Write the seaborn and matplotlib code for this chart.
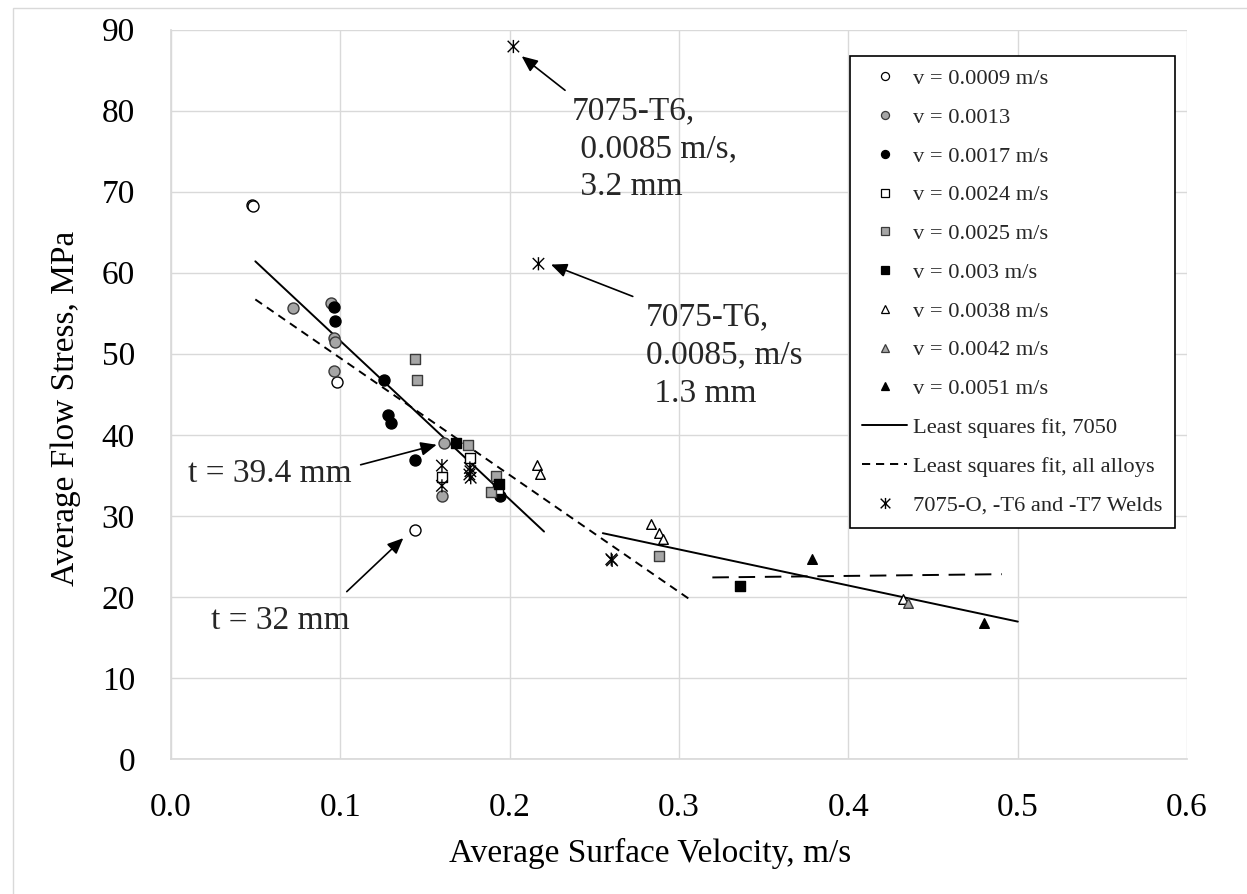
import matplotlib
matplotlib.use("Agg")
import numpy as np
import pandas as pd
import seaborn as sns
import matplotlib.pyplot as plt
from matplotlib.path import Path
from matplotlib.lines import Line2D
from matplotlib.patches import Rectangle

# ---------------- data ----------------
x_v0009 = [0.0478, 0.0483, 0.0983, 0.1439]
y_v0009 = [68.3, 68.2, 46.5, 28.2]

x_v0013 = [0.0720, 0.0943, 0.0963, 0.0966, 0.0963, 0.1613, 0.1600]
y_v0013 = [55.6, 56.3, 51.9, 51.5, 47.9, 39.0, 32.5]

x_v0017 = [0.0963, 0.0970, 0.1258, 0.1280, 0.1298, 0.1440, 0.1943]
y_v0017 = [55.8, 54.0, 46.7, 42.5, 41.4, 36.9, 32.4]

x_v0024 = [0.1764, 0.1600, 0.1933]
y_v0024 = [37.1, 34.8, 33.3]

x_v0025 = [0.1441, 0.1453, 0.1754, 0.1920, 0.1890, 0.2884]
y_v0025 = [49.3, 46.7, 38.7, 34.9, 33.0, 25.1]

x_v0030 = [0.1683, 0.1937, 0.3360]
y_v0030 = [39.0, 33.95, 21.4]

x_v0038 = [0.2160, 0.2180, 0.2837, 0.2880, 0.2904, 0.4320]
y_v0038 = [36.3, 35.1, 29.0, 27.9, 27.1, 19.7]

x_v0042 = [0.4355]
y_v0042 = [19.3]

x_v0051 = [0.3784, 0.4804]
y_v0051 = [24.65, 16.8]

x_welds = [0.2022, 0.2170, 0.1600, 0.1600, 0.1765, 0.1768, 0.1762, 0.1770, 0.2600, 0.2605]
y_welds = [87.9, 61.1, 36.2, 33.7, 35.9, 35.5, 35.1, 34.7, 24.65, 24.5]

# least squares fit segments (end points)
fit7050_a_x = [0.0498, 0.2203]
fit7050_a_y = [61.4, 28.06]
fit7050_b_x = [0.2550, 0.5001]
fit7050_b_y = [27.86, 16.95]
fit_all_x = [0.0498, 0.3070]
fit_all_y = [56.7, 19.6]
flat_x = [0.3197, 0.4906]
flat_y = [22.4, 22.8]

series_labels = ["v = 0.0009 m/s", "v = 0.0013", "v = 0.0017 m/s",
                 "v = 0.0024 m/s", "v = 0.0025 m/s", "v = 0.003 m/s",
                 "v = 0.0038 m/s", "v = 0.0042 m/s", "v = 0.0051 m/s"]
fit_labels = ["Least squares fit, 7050", "Least squares fit, all alloys"]
weld_label = "7075-O, -T6 and -T7 Welds"

x_ticks = [0.0, 0.1, 0.2, 0.3, 0.4, 0.5, 0.6]
y_ticks = [0, 10, 20, 30, 40, 50, 60, 70, 80, 90]

# ---------------- style ----------------
sns.set_theme(style="white")
plt.rcParams['font.family'] = ['Liberation Serif', 'DejaVu Serif']
plt.rcParams['mathtext.default'] = 'regular'

W, H = 1247, 894
fig = plt.figure(figsize=(W / 100, H / 100), dpi=100)
fig.patch.set_facecolor("white")
# outer chart border (light grey)
fig.patches.append(Rectangle((13 / W, -0.1), 1.2, 1 - 8 / H + 0.1, transform=fig.transFigure,
                             fill=False, edgecolor="#d9d9d9", linewidth=1.0))

ax = fig.add_axes([171 / W, 1 - 759 / H, 1016 / W, 729.5 / H])

GREY = "#a6a6a6"
star = Path([(-1, -1), (1, 1), (-1, 1), (1, -1), (0, -1.15), (0, 1.15)],
            [Path.MOVETO, Path.LINETO, Path.MOVETO, Path.LINETO, Path.MOVETO, Path.LINETO])

# fit lines
sns.lineplot(x=fit7050_a_x, y=fit7050_a_y, ax=ax, color="black", linewidth=1.4, zorder=2)
sns.lineplot(x=fit7050_b_x, y=fit7050_b_y, ax=ax, color="black", linewidth=1.4, zorder=2)
sns.lineplot(x=fit_all_x, y=fit_all_y, ax=ax, color="black", linewidth=1.4,
             zorder=2).lines[-1].set_dashes((4.2, 3.0))
sns.lineplot(x=flat_x, y=flat_y, ax=ax, color="black", linewidth=1.4, zorder=2).lines[-1].set_dashes((8.5, 5.0))

series = [
    (x_v0009, y_v0009, "o", "white", "black", 63),
    (x_v0013, y_v0013, "o", GREY, "#3a3a3a", 63),
    (x_v0017, y_v0017, "o", "black", "black", 63),
    (x_v0024, y_v0024, "s", "white", "black", 52),
    (x_v0025, y_v0025, "s", GREY, "#3a3a3a", 52),
    (x_v0030, y_v0030, "s", "black", "black", 52),
    (x_v0038, y_v0038, "^", "white", "black", 48),
    (x_v0042, y_v0042, "^", GREY, "#3a3a3a", 48),
    (x_v0051, y_v0051, "^", "black", "black", 48),
]
for xs, ys, mk, fc, ec, s in series:
    sns.scatterplot(x=xs, y=ys, ax=ax, marker=mk, color=fc, edgecolor=ec,
                    linewidth=1.0, s=s, zorder=3)
sns.scatterplot(x=x_welds, y=y_welds, ax=ax, marker=star, color="black",
                facecolor="none", edgecolor="black", linewidth=1.0, s=90, zorder=4)

# axes
ax.set_xlim(0, 0.6)
ax.set_ylim(0, 90)
ax.set_xticks(x_ticks)
ax.set_yticks(y_ticks)
ax.set_xticklabels([f"{v:.1f}" for v in x_ticks])
ax.set_yticklabels([str(v) for v in y_ticks])
ax.grid(True, color="#d9d9d9", linewidth=1.0)
ax.set_axisbelow(True)
for sp in ax.spines.values():
    sp.set_visible(False)
ax.spines["left"].set_visible(True)
ax.spines["bottom"].set_visible(True)
ax.spines["left"].set_color("#d9d9d9")
ax.spines["bottom"].set_color("#d9d9d9")
ax.tick_params(axis="both", length=0, labelsize=24, colors="black")
ax.tick_params(axis="x", pad=24)
ax.tick_params(axis="y", pad=26)

ax.set_xlabel("Average Surface Velocity, m/s", fontsize=24, color="black")
ax.set_ylabel("Average Flow Stress, MPa", fontsize=24, color="black")
ax.xaxis.set_label_coords((650 - 171) / 1016, (759 - 838) / 729.5)
ax.yaxis.set_label_coords((81 - 171) / 1016, (759 - 408) / 729.5)

# annotations
arrowkw = dict(arrowstyle="-|>,head_length=0.8,head_width=0.35", color="black", lw=1.2,
               shrinkA=0, shrinkB=0)
ax.annotate("", xy=(0.2071, 86.7), xytext=(0.2327, 82.5), arrowprops=arrowkw)
ax.annotate("", xy=(0.2244, 61.0), xytext=(0.2727, 57.07), arrowprops=arrowkw)
ax.annotate("", xy=(0.1569, 38.77), xytext=(0.1120, 36.3), arrowprops=arrowkw)
ax.annotate("", xy=(0.1372, 27.25), xytext=(0.1038, 20.65), arrowprops=arrowkw)

# multi-line texts: anchored at the baseline of their last line
ax.text(0.2366, 69.6, "7075-T6,\n 0.0085 m/s,\n 3.2 mm", fontsize=24, va="baseline", ha="left",
        linespacing=1.32)
ax.text(0.2805, 44.1, "7075-T6,\n0.0085, m/s\n 1.3 mm", fontsize=24, va="baseline", ha="left",
        linespacing=1.32)
ax.text(0.0100, 34.2, "t = 39.4 mm", fontsize=24, va="baseline", ha="left")
ax.text(0.0234, 16.1, "t = 32 mm", fontsize=24, va="baseline", ha="left")

# legend
handles = []
for (xs, ys, mk, fc, ec, s), lab in zip(series, series_labels):
    handles.append(Line2D([], [], ls="none", marker=mk, markersize=5.8,
                          markerfacecolor=fc, markeredgecolor=ec, markeredgewidth=0.9, label=lab))
handles.append(Line2D([], [], color="black", lw=1.4, label=fit_labels[0]))
handles.append(Line2D([], [], color="black", lw=1.4, dashes=(4.2, 3.0), label=fit_labels[1]))
handles.append(Line2D([], [], ls="none", marker=star, markersize=8, markerfacecolor="none",
                      markeredgecolor="black", markeredgewidth=1.0, label=weld_label))
leg = ax.legend(handles=handles, loc="upper left", bbox_to_anchor=(850 / W, 1 - 56 / H),
                bbox_transform=fig.transFigure, borderaxespad=0, fontsize=16.2,
                frameon=True, fancybox=False, edgecolor="black", framealpha=1,
                handlelength=2.0, handletextpad=0.25, labelspacing=0.8, borderpad=0.55)
leg.get_frame().set_linewidth(1.2)
leg.set_zorder(10)

fig.savefig("out.png", dpi=100, facecolor="white")
